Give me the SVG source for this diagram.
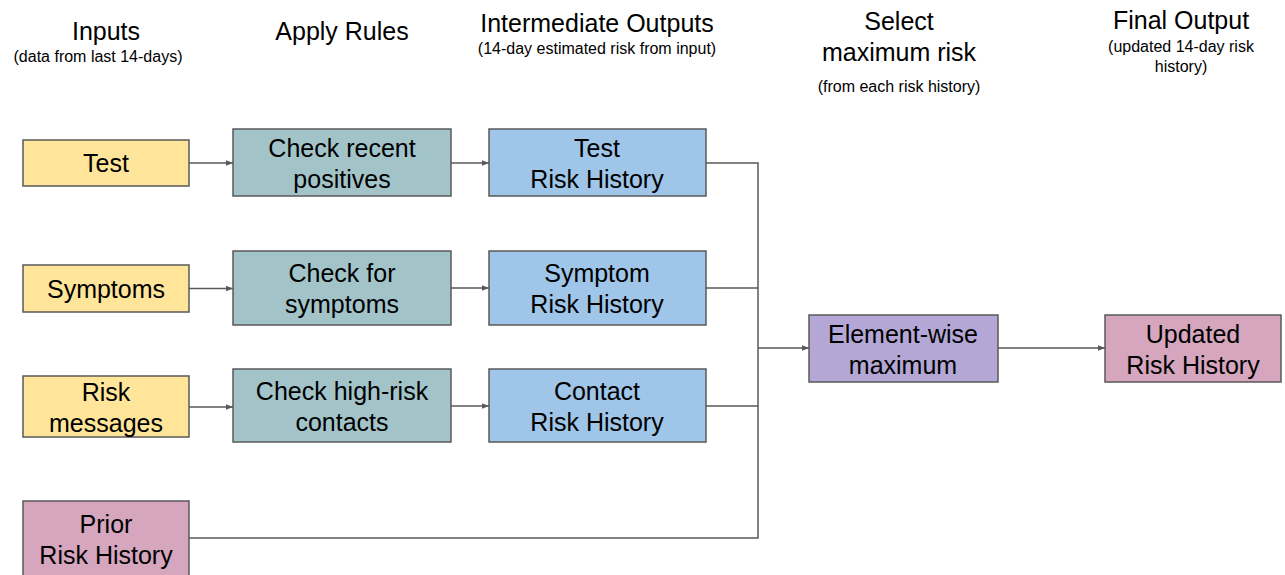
<svg xmlns="http://www.w3.org/2000/svg" width="1285" height="575" viewBox="0 0 1285 575">
<style>
text{font-family:"Liberation Sans",Arial,sans-serif;fill:#000;text-anchor:middle}
.h{font-size:25px}
.s{font-size:16px}
.t{font-size:25px}
rect{stroke:#595959;stroke-width:1.5}
.in{fill:#ffe599}.ru{fill:#a2c4c9}.ir{fill:#9fc5e8}.mx{fill:#b4a7d6}.pk{fill:#d5a6bd}
.c{fill:none;stroke:#595959;stroke-width:1.5}
</style>
<defs>
<marker id="a" viewBox="0 0 10 10" refX="10" refY="5" markerWidth="7" markerHeight="7" markerUnits="userSpaceOnUse" orient="auto"><path d="M0,1 L10,5 L0,9 z" fill="#595959"/></marker>
</defs>
<g id="headers">
<text class="h" x="106" y="40">Inputs</text>
<text class="s" x="98" y="62">(data from last 14-days)</text>
<text class="h" x="342" y="40">Apply Rules</text>
<text class="h" x="597" y="32">Intermediate Outputs</text>
<text class="s" x="597" y="54">(14-day estimated risk from input)</text>
<text class="h" x="899" y="30">Select</text>
<text class="h" x="899" y="61">maximum risk</text>
<text class="s" x="899" y="92">(from each risk history)</text>
<text class="h" x="1181" y="29">Final Output</text>
<text class="s" x="1181" y="52">(updated 14-day risk</text>
<text class="s" x="1181" y="72">history)</text>
</g>
<g id="connectors">
<path class="c" d="M189,163 H233" marker-end="url(#a)"/>
<path class="c" d="M451,163 H489" marker-end="url(#a)"/>
<path class="c" d="M189,288.5 H233" marker-end="url(#a)"/>
<path class="c" d="M451,288 H489" marker-end="url(#a)"/>
<path class="c" d="M189,407 H233" marker-end="url(#a)"/>
<path class="c" d="M451,406 H489" marker-end="url(#a)"/>
<path class="c" d="M706,163 H758 V538 H189"/>
<path class="c" d="M706,288 H758"/>
<path class="c" d="M706,406 H758"/>
<path class="c" d="M758,348 H809" marker-end="url(#a)"/>
<path class="c" d="M998,348 H1105" marker-end="url(#a)"/>
</g>
<g id="test"><rect class="in" x="23" y="140" width="166" height="46"/><text class="t" x="106" y="172">Test</text></g>
<g id="symptoms"><rect class="in" x="23" y="265" width="166" height="47"/><text class="t" x="106" y="298">Symptoms</text></g>
<g id="riskmsg"><rect class="in" x="23" y="376" width="166" height="61"/><text class="t" x="106" y="401">Risk</text><text class="t" x="106" y="432">messages</text></g>
<g id="prior"><rect class="pk" x="23" y="501" width="166" height="80"/><text class="t" x="106" y="533">Prior</text><text class="t" x="106" y="564">Risk History</text></g>
<g id="rule1"><rect class="ru" x="233" y="129" width="218" height="67"/><text class="t" x="342" y="157">Check recent</text><text class="t" x="342" y="188">positives</text></g>
<g id="rule2"><rect class="ru" x="233" y="251" width="218" height="74"/><text class="t" x="342" y="282">Check for</text><text class="t" x="342" y="313">symptoms</text></g>
<g id="rule3"><rect class="ru" x="233" y="369" width="218" height="73"/><text class="t" x="342" y="400">Check high-risk</text><text class="t" x="342" y="431">contacts</text></g>
<g id="out1"><rect class="ir" x="489" y="129" width="217" height="67"/><text class="t" x="597" y="157">Test</text><text class="t" x="597" y="188">Risk History</text></g>
<g id="out2"><rect class="ir" x="489" y="251" width="217" height="74"/><text class="t" x="597" y="282">Symptom</text><text class="t" x="597" y="313">Risk History</text></g>
<g id="out3"><rect class="ir" x="489" y="369" width="217" height="73"/><text class="t" x="597" y="400">Contact</text><text class="t" x="597" y="431">Risk History</text></g>
<g id="max"><rect class="mx" x="809" y="315" width="189" height="67"/><text class="t" x="903" y="343">Element-wise</text><text class="t" x="903" y="374">maximum</text></g>
<g id="updated"><rect class="pk" x="1105" y="315" width="176" height="67"/><text class="t" x="1193" y="343">Updated</text><text class="t" x="1193" y="374">Risk History</text></g>
</svg>
